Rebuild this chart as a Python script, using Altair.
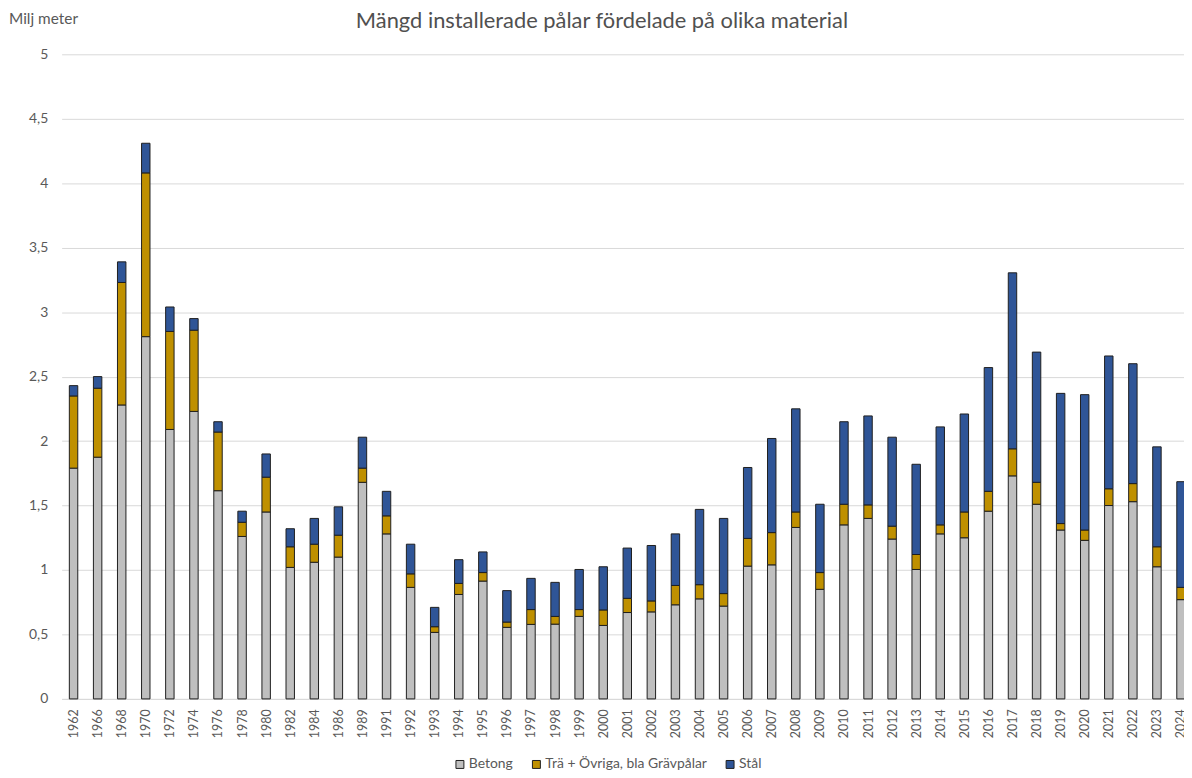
import json
import altair as alt
import pandas as pd

years = ["1962", "1966", "1968", "1970", "1972", "1974", "1976", "1978", "1980",
         "1982", "1984", "1986", "1989", "1991", "1992", "1993", "1994", "1995",
         "1996", "1997", "1998", "1999", "2000", "2001", "2002", "2003", "2004",
         "2005", "2006", "2007", "2008", "2009", "2010", "2011", "2012", "2013",
         "2014", "2015", "2016", "2017", "2018", "2019", "2020", "2021", "2022",
         "2023", "2024"]

betong = [1.79, 1.875, 2.28, 2.81, 2.09, 2.23, 1.615, 1.26, 1.45,
          1.02, 1.06, 1.10, 1.68, 1.28, 0.865, 0.516, 0.81, 0.914,
          0.555, 0.578, 0.58, 0.64, 0.57, 0.67, 0.675, 0.73, 0.776,
          0.72, 1.03, 1.04, 1.33, 0.85, 1.35, 1.40, 1.24, 1.004,
          1.28, 1.25, 1.456, 1.73, 1.51, 1.31, 1.23, 1.50, 1.53,
          1.025, 0.77]

tra = [0.56, 0.535, 0.95, 1.27, 0.76, 0.63, 0.455, 0.11, 0.27,
       0.16, 0.14, 0.17, 0.11, 0.14, 0.105, 0.044, 0.086, 0.066,
       0.041, 0.115, 0.06, 0.053, 0.12, 0.11, 0.085, 0.15, 0.11,
       0.097, 0.215, 0.25, 0.12, 0.13, 0.16, 0.105, 0.10, 0.116,
       0.07, 0.20, 0.154, 0.21, 0.17, 0.05, 0.08, 0.13, 0.14,
       0.155, 0.095]

stal = [0.08, 0.09, 0.16, 0.23, 0.19, 0.09, 0.08, 0.086, 0.18,
        0.14, 0.20, 0.22, 0.24, 0.19, 0.23, 0.15, 0.184, 0.16,
        0.244, 0.242, 0.264, 0.311, 0.335, 0.39, 0.43, 0.40, 0.584,
        0.583, 0.55, 0.73, 0.80, 0.53, 0.64, 0.69, 0.69, 0.70,
        0.76, 0.76, 0.96, 1.365, 1.01, 1.01, 1.05, 1.03, 0.93,
        0.775, 0.82]

series = ["Betong", "Trä + Övriga, bla Grävpålar", "Stål"]
colors = ["#BFBFBF", "#BF9000", "#2F5597"]
y_ticks = [0, 0.5, 1, 1.5, 2, 2.5, 3, 3.5, 4, 4.5, 5]

chart_title = "Mängd installerade pålar fördelade på olika material"
y_title = "Milj meter"

rows = []
for i, yr in enumerate(years):
    for k, vals in enumerate([betong, tra, stal]):
        rows.append({"idx": i, "year": yr, "material": series[k], "value": vals[i], "ord": k})
df = pd.DataFrame(rows)

FONT = "Lato"
TXT = "#595959"

# category slots: the picture is cropped so the last column is cut at the right edge
x_domain = [-0.495, len(years) - 1 - 0.495 + 0.619]
year_label_expr = json.dumps(years) + "[datum.value]"

bars = alt.Chart(df).mark_bar(stroke="#1f1f1f", strokeWidth=1, size=8.5).encode(
    x=alt.X("idx:Q",
            scale=alt.Scale(domain=x_domain, nice=False, zero=False, padding=0),
            axis=alt.Axis(title=None, values=list(range(len(years))), labelExpr=year_label_expr,
                          labelAngle=-90, labelAlign="right", labelBaseline="middle",
                          labelFlush=False, labelOverlap=False, labelBound=False,
                          labelPadding=10, labelFontSize=12.5, labelColor=TXT, labelFont=FONT,
                          ticks=False, domainColor="#d9d9d9", grid=False)),
    y=alt.Y("value:Q", stack="zero",
            scale=alt.Scale(domain=[0, 5], nice=False),
            axis=alt.Axis(title=None, values=y_ticks,
                          labelExpr="replace(format(datum.value, ''), '.', ',')",
                          labelFontSize=14, labelColor=TXT, labelFont=FONT, labelPadding=14,
                          ticks=False, domain=False, gridColor="#d9d9d9", gridWidth=1)),
    color=alt.Color("material:N", sort=series,
                    scale=alt.Scale(domain=series, range=colors),
                    legend=alt.Legend(title=None, orient="none", legendX=394, legendY=708,
                                      direction="horizontal", symbolType="square", symbolSize=64,
                                      symbolStrokeColor="#1f1f1f", symbolStrokeWidth=1,
                                      labelFontSize=14, labelColor=TXT, labelFont=FONT,
                                      labelLimit=0, labelOffset=2, columnPadding=16)),
    order=alt.Order("ord:Q", sort="ascending"),
    tooltip=["year:N", "material:N", "value:Q"],
)

title_mark = alt.Chart(pd.DataFrame({"t": [chart_title]})).mark_text(
    font=FONT, fontSize=22, color="#505050", align="center", baseline="alphabetic"
).encode(text="t:N", x=alt.value(544), y=alt.value(-26))

ytitle_mark = alt.Chart(pd.DataFrame({"t": [y_title]})).mark_text(
    font=FONT, fontSize=15.5, color=TXT, align="left", baseline="alphabetic"
).encode(text="t:N", x=alt.value(-53), y=alt.value(-30))

chart = alt.layer(bars, title_mark, ytitle_mark).properties(
    width=1130, height=649,
    padding={"left": 54, "top": 44, "right": 0, "bottom": 74},
    autosize=alt.AutoSizeParams(type="none"),
).configure_view(stroke=None)

chart.save("out.html", embed_options={"renderer": "svg", "actions": False})
